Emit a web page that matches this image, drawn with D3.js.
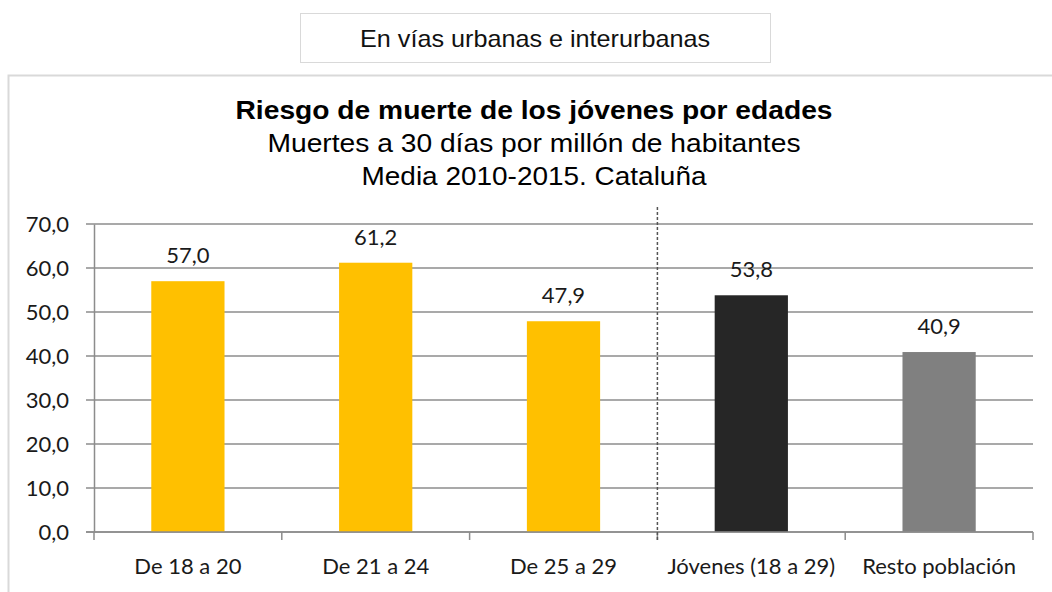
<!DOCTYPE html>
<html>
<head>
<meta charset="utf-8">
<script src="https://cdn.jsdelivr.net/npm/d3@7"></script>
<style>
  body { margin: 0; background: #fff; }
</style>
</head>
<body>
<div id="chart"></div>
<script>
var categories = ["De 18 a 20", "De 21 a 24", "De 25 a 29", "Jóvenes (18 a 29)", "Resto población"];
var values = [57.0, 61.2, 47.9, 53.8, 40.9];
var barColors = ["#ffc000", "#ffc000", "#ffc000", "#262626", "#808080"];
var yTicks = [0, 10, 20, 30, 40, 50, 60, 70];

var svgWidth = 1052;
var svgHeight = 592;

var margin = { top: 224, right: 19, bottom: 60, left: 94 };
var width = svgWidth - margin.left - margin.right;
var height = svgHeight - margin.top - margin.bottom;

var svg = d3.select("#chart")
  .append("svg")
  .attr("width", svgWidth)
  .attr("height", svgHeight);

// header box
svg.append("rect")
  .attr("x", 300.5).attr("y", 13.5)
  .attr("width", 470).attr("height", 49)
  .attr("fill", "#fff")
  .attr("stroke", "#d9d9d9");

svg.append("text")
  .attr("x", 535).attr("y", 47)
  .attr("text-anchor", "middle")
  .attr("font-family", "Liberation Sans, Arial, sans-serif")
  .attr("font-size", "24px")
  .attr("textLength", 350)
  .attr("lengthAdjust", "spacingAndGlyphs")
  .attr("fill", "#111")
  .text("En vías urbanas e interurbanas");

// chart frame
svg.append("path")
  .attr("d", "M8.5,600 V75.5 H1060")
  .attr("fill", "none")
  .attr("stroke", "#d9d9d9")
  .attr("stroke-width", 2);

var titles = [
  { t: "Riesgo de muerte de los jóvenes por edades", y: 119, w: "bold", len: 597 },
  { t: "Muertes a 30 días por millón de habitantes", y: 152, w: "normal", len: 533 },
  { t: "Media 2010-2015. Cataluña", y: 185, w: "normal", len: 345 }
];
svg.selectAll(".title")
  .data(titles)
  .enter()
  .append("text")
  .attr("x", 534)
  .attr("y", d => d.y)
  .attr("text-anchor", "middle")
  .attr("font-family", "Liberation Sans, Arial, sans-serif")
  .attr("font-size", "26px")
  .attr("font-weight", d => d.w)
  .attr("textLength", d => d.len)
  .attr("lengthAdjust", "spacingAndGlyphs")
  .attr("fill", "#000")
  .text(d => d.t);

var chart = svg.append("g")
  .attr("transform", `translate(${margin.left}, ${margin.top})`);

var xScale = d3.scaleBand()
  .domain(categories)
  .range([0, width])
  .paddingInner(0.61)
  .paddingOuter(0.305);

var yScale = d3.scaleLinear()
  .domain([0, 70])
  .range([height, 0]);

// gridlines
chart.append("g")
  .selectAll("line")
  .data(yTicks)
  .enter()
  .append("line")
  .attr("x1", -8)
  .attr("x2", width)
  .attr("y1", d => yScale(d))
  .attr("y2", d => yScale(d))
  .attr("stroke", "#8c8c8c")
  .attr("stroke-width", 1.5);

// y axis
var leftAxis = d3.axisLeft(yScale)
  .tickValues(yTicks)
  .tickSize(0)
  .tickPadding(25)
  .tickFormat(d => d3.format(".1f")(d).replace(".", ","));

chart.append("g")
  .call(leftAxis)
  .call(g => g.select(".domain").attr("stroke", "#8c8c8c").attr("stroke-width", 1.5))
  .call(g => g.selectAll("text")
    .attr("font-family", "Lato, sans-serif")
    .attr("font-size", "22px")
    .attr("fill", "#1a1a1a"));

// bars
chart.append("g")
  .selectAll("rect")
  .data(values)
  .enter()
  .append("rect")
  .attr("x", (d, i) => xScale(categories[i]))
  .attr("y", d => yScale(d))
  .attr("width", xScale.bandwidth())
  .attr("height", d => height - yScale(d))
  .attr("fill", (d, i) => barColors[i]);

// value labels
chart.append("g")
  .selectAll("text")
  .data(values)
  .enter()
  .append("text")
  .attr("x", (d, i) => xScale(categories[i]) + xScale.bandwidth() / 2)
  .attr("y", d => yScale(d) - 18)
  .attr("text-anchor", "middle")
  .attr("font-family", "Lato, sans-serif")
  .attr("font-size", "22px")
  .attr("fill", "#1a1a1a")
  .text(d => d3.format(".1f")(d).replace(".", ","));

// x axis baseline and boundary ticks
var step = xScale.step();
chart.append("line")
  .attr("x1", -8).attr("x2", width)
  .attr("y1", height).attr("y2", height)
  .attr("stroke", "#8c8c8c")
  .attr("stroke-width", 1.5);

chart.append("g")
  .selectAll("line")
  .data(d3.range(categories.length + 1))
  .enter()
  .append("line")
  .attr("x1", d => d * step)
  .attr("x2", d => d * step)
  .attr("y1", height)
  .attr("y2", height + 8)
  .attr("stroke", "#8c8c8c")
  .attr("stroke-width", 1.5);

// category labels
chart.append("g")
  .selectAll("text")
  .data(categories)
  .enter()
  .append("text")
  .attr("x", d => xScale(d) + xScale.bandwidth() / 2)
  .attr("y", height + 42)
  .attr("text-anchor", "middle")
  .attr("font-family", "Lato, sans-serif")
  .attr("font-size", "22px")
  .attr("fill", "#1a1a1a")
  .text(d => d);

// dashed separator between groups
chart.append("line")
  .attr("x1", 3 * step).attr("x2", 3 * step)
  .attr("y1", -17).attr("y2", height + 8)
  .attr("stroke", "#555")
  .attr("stroke-width", 1.5)
  .attr("stroke-dasharray", "3,2");
</script>
</body>
</html>
